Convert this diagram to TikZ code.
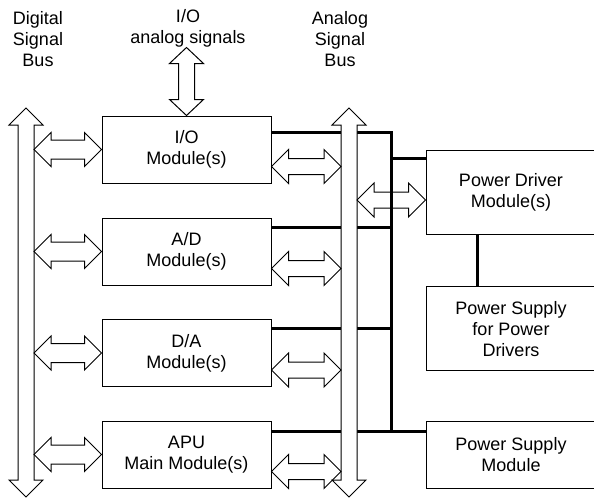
\documentclass[tikz,border=0pt]{standalone}
\usepackage{fontspec}
\setmainfont{Liberation Sans}
\usetikzlibrary{calc}

\tikzset{
  txt/.style={font=\fontsize{18}{21}\selectfont, align=center},
  box/.style={txt, draw, line width=1pt, inner sep=0pt},
  modbox/.style={box, minimum width=169pt, minimum height=67pt},
  hollow/.style={draw, line width=1pt, line join=miter},
  wire/.style={line width=3pt},
}

% horizontal hollow double arrow from #1 to #2 (at the height of #1), shaft half-width #3
\newcommand\hdbl[3]{%
  \draw[hollow] let \p1=(#1), \p2=(#2) in
    (\x1,\y1) -- (\x1+17pt,\y1+17pt) -- (\x1+17pt,\y1+#3) -- (\x2-17pt,\y1+#3)
    -- (\x2-17pt,\y1+17pt) -- (\x2,\y1) -- (\x2-17pt,\y1-17pt) -- (\x2-17pt,\y1-#3)
    -- (\x1+17pt,\y1-#3) -- (\x1+17pt,\y1-17pt) -- cycle;}

% vertical hollow double arrow from top #2 to bottom #3, shaft half-width #4, head length #5
\newcommand\vdbl[5][]{%
  \draw[hollow,#1] let \p1=(#2), \p2=(#3) in
    (\x1,\y1) -- (\x1+17pt,\y1-#5) -- (\x1+#4,\y1-#5) -- (\x1+#4,\y2+#5)
    -- (\x1+17pt,\y2+#5) -- (\x1,\y2) -- (\x1-17pt,\y2+#5) -- (\x1-#4,\y2+#5)
    -- (\x1-#4,\y1-#5) -- (\x1-17pt,\y1-#5) -- cycle;}

\begin{document}
\begin{tikzpicture}[x=1pt, y=-1pt]
\useasboundingbox (0,0) rectangle (594,498);
\clip (0,0) rectangle (594,498);

% labels
\node[txt] (lblD) at (38,39) {Digital\\Signal\\Bus};
\node[txt] (lblIO) at (188,28.5) {I/O\\analog signals};
\node[txt] (lblA) at (340,39) {Analog\\Signal\\Bus};

% module boxes
\node[modbox] (io)  at (186.5,149.5) {I/O\\Module(s)};
\node[modbox] (ad)  at (186.5,251.5) {A/D\\Module(s)};
\node[modbox] (da)  at (186.5,353)   {D/A\\Module(s)};
\node[modbox] (apu) at (186.5,454.5) {APU\\Main Module(s)};

% power boxes (open to the right)
\node[box, minimum width=170pt, minimum height=84pt] (pd)  at (511,192)   {Power Driver\\Module(s)};
\node[box, minimum width=170pt, minimum height=84pt] (pspd) at (511,328.7) {Power Supply\\for Power\\Drivers};
\node[box, minimum width=170pt, minimum height=67pt] (psm) at (511,454.7) {Power Supply\\Module};

% bus geometry
\coordinate (dtop) at (26,108);
\coordinate (dbot) at (26,497);
\coordinate (dR) at (34,0);
\coordinate (atop) at (349,108);
\coordinate (abot) at (349,497);
\coordinate (aL) at (341,0);
\coordinate (aR) at (357,0);
\coordinate (jx) at (391,0);

% power wiring
\coordinate (ioW) at ($(io.north east)+(0,17)$);
\coordinate (adW) at ($(ad.north east)+(0,10)$);
\coordinate (daW) at ($(da.north east)+(0,9.5)$);
\coordinate (apuW) at ($(apu.north east)+(0,11)$);
\coordinate (pdW) at ($(pd.north west)+(0,9)$);
\draw[wire] (ioW) -- (ioW -| jx) -- (apuW -| jx);
\draw[wire] (adW) -- (adW -| jx);
\draw[wire] (daW) -- (daW -| jx);
\draw[wire] (apuW) -- (apuW -| psm.west);
\draw[wire] (pdW -| jx) -- (pdW);
\draw[wire] (pd.south -| 477,0) -- (pspd.north -| 477,0);

% buses
\vdbl[fill=white]{dtop}{dbot}{8pt}{17pt}
\vdbl[fill=white]{atop}{abot}{8pt}{17pt}

% external I/O signals
\coordinate (iotop) at ($(io.north)+(0,-68)$);
\vdbl{iotop}{io.north}{8pt}{16pt}

% digital bus links
\foreach \m in {io,ad,da,apu}{
  \hdbl{\m.west -| dR}{\m.west}{9.5pt}
}

% analog bus links
\foreach \m in {io,ad,da,apu}{
  \coordinate (\m A) at ($(\m.east)+(0,17)$);
  \hdbl{\m A}{\m A -| aL}{8pt}
}
\coordinate (pdA) at ($(pd.west)+(0,8)$);
\hdbl{pdA -| aR}{pdA}{8pt}

\end{tikzpicture}
\end{document}
